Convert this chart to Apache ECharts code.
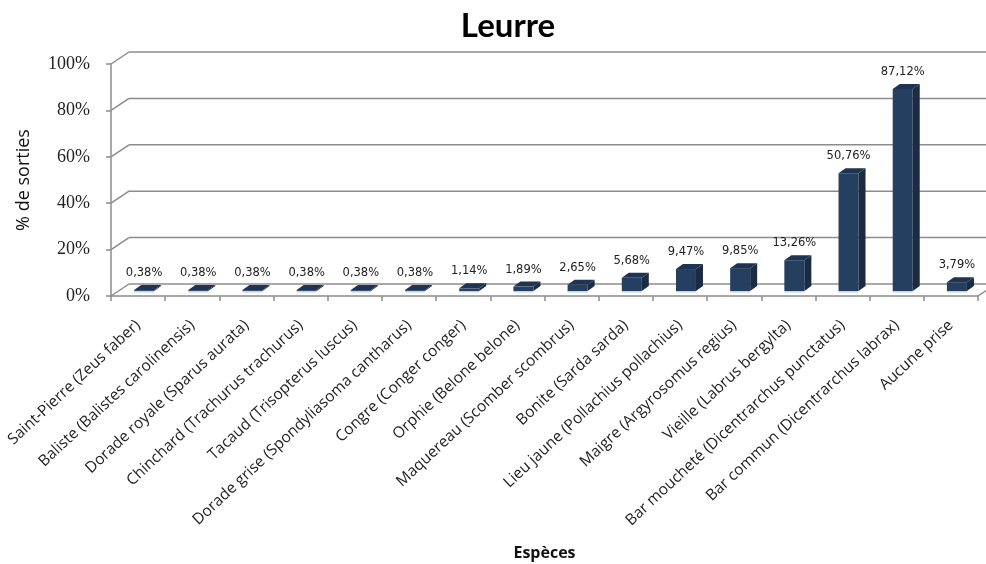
<!DOCTYPE html>
<html><head><meta charset="utf-8">
<script src="https://cdn.jsdelivr.net/npm/echarts@6/dist/echarts.min.js"></script>
<style>html,body{margin:0;padding:0;background:#fff}#c{width:986px;height:564px}</style>
</head><body><div id="c"></div>
<script>
const categories = [
  'Saint-Pierre (Zeus faber)',
  'Baliste (Balistes carolinensis)',
  'Dorade royale (Sparus aurata)',
  'Chinchard (Trachurus trachurus)',
  'Tacaud (Trisopterus luscus)',
  'Dorade grise (Spondyliasoma cantharus)',
  'Congre (Conger conger)',
  'Orphie (Belone belone)',
  'Maquereau (Scomber scombrus)',
  'Bonite (Sarda sarda)',
  'Lieu jaune (Pollachius pollachius)',
  'Maigre (Argyrosomus regius)',
  'Vieille (Labrus bergylta)',
  'Bar moucheté (Dicentrarchus punctatus)',
  'Bar commun (Dicentrarchus labrax)',
  'Aucune prise'
];
const values = [0.38, 0.38, 0.38, 0.38, 0.38, 0.38, 1.14, 1.89, 2.65, 5.68, 9.47, 9.85, 13.26, 50.76, 87.12, 3.79];
const yTicks = [0, 20, 40, 60, 80, 100];

const GRID = '#8c8c8c';
const WALL_DX = 18, WALL_DY = -12;
const BAR_SHIFT_X = 6, BAR_SHIFT_Y = -5, BAR_W = 20, BAR_DX = 7, BAR_DY = -5;

function fmt(v) { return v.toFixed(2).replace('.', ',') + '%'; }

function renderWall(params, api) {
  const v = api.value(1);
  const p = api.coord([0, v]);
  const cs = params.coordSys;
  const y = p[1], xl = cs.x, xr = cs.x + cs.width;
  const st = { stroke: GRID, lineWidth: 1.5 };
  const children = [
    { type: 'line', shape: { x1: xl, y1: y, x2: xl + WALL_DX, y2: y + WALL_DY }, style: st },
    { type: 'line', shape: { x1: xl + WALL_DX, y1: y + WALL_DY, x2: xr + WALL_DX, y2: y + WALL_DY }, style: st }
  ];
  if (v === 0) {
    children.push({ type: 'line', shape: { x1: xr, y1: y, x2: xr + WALL_DX, y2: y + WALL_DY }, style: st });
  }
  return { type: 'group', children };
}

function renderBar(params, api) {
  const idx = api.value(0), v = api.value(1);
  const base = api.coord([idx, 0]);
  const top = api.coord([idx, v]);
  const cx = base[0] + BAR_SHIFT_X;
  const y0 = base[1] + BAR_SHIFT_Y;
  const y1 = top[1] + BAR_SHIFT_Y;
  const xl = cx - BAR_W / 2, xr = cx + BAR_W / 2;
  return {
    type: 'group',
    children: [
      { type: 'rect', shape: { x: xl, y: y1, width: BAR_W, height: Math.max(y0 - y1, 0.5) }, style: { fill: '#243F60' } },
      { type: 'polygon', shape: { points: [[xr, y0], [xr, y1], [xr + BAR_DX, y1 + BAR_DY], [xr + BAR_DX, y0 + BAR_DY]] }, style: { fill: '#1A2B42' } },
      { type: 'polygon', shape: { points: [[xl, y1], [xr, y1], [xr + BAR_DX, y1 + BAR_DY], [xl + BAR_DX, y1 + BAR_DY]] }, style: { fill: '#1E3452' } },
      { type: 'line', shape: { x1: xl, y1: y0 + 0.75, x2: xr, y2: y0 + 0.75 }, style: { stroke: '#C3D3E8', lineWidth: 1.5 } },
      { type: 'text', style: { x: cx, y: y1 + BAR_DY - 6, text: fmt(v), textAlign: 'center', textVerticalAlign: 'bottom', font: '11.5px "DejaVu Sans"', fill: '#222' } }
    ]
  };
}

const chart = echarts.init(document.getElementById('c'), null, { renderer: 'canvas' });
chart.setOption({
  animation: false,
  backgroundColor: '#fff',
  title: {
    text: 'Leurre', left: 503, top: 5, textAlign: 'center',
    textStyle: { fontFamily: 'Lato', fontWeight: 'bold', fontSize: 33, color: '#000' }
  },
  grid: { left: 111, right: 8, top: 64, bottom: 268, outerBoundsMode: 'none', containLabel: false },
  xAxis: {
    type: 'category', data: categories,
    name: 'Espèces', nameLocation: 'middle', nameGap: 249,
    nameTextStyle: { fontFamily: 'Open Sans', fontWeight: 'bold', fontSize: 16, color: '#111' },
    axisLine: { lineStyle: { color: GRID, width: 1.5 } },
    axisTick: { show: true, length: 5, lineStyle: { color: GRID, width: 1.5 } },
    axisLabel: { rotate: 43, interval: 0, margin: 27, fontFamily: 'Open Sans', fontSize: 15.5, color: '#222' },
    splitLine: { show: false }
  },
  yAxis: {
    type: 'value', min: 0, max: 100, interval: 20,
    name: '% de sorties', nameLocation: 'middle', nameGap: 78, nameRotate: 90,
    nameTextStyle: { fontFamily: 'Open Sans', fontSize: 18, color: '#111' },
    axisLine: { show: true, lineStyle: { color: GRID, width: 1.5 } },
    axisTick: { show: true, length: 5, lineStyle: { color: GRID, width: 1.5 } },
    axisLabel: { formatter: v => v + '%', margin: 21, fontFamily: 'Liberation Serif', fontSize: 18, color: '#222' },
    splitLine: { show: false }
  },
  series: [
    { type: 'custom', clip: false, z: 1, silent: true, renderItem: renderWall, data: yTicks.map(v => [0, v]) },
    { type: 'custom', clip: false, z: 3, renderItem: renderBar, data: values.map((v, i) => [i, v]) }
  ]
});
</script></body></html>
